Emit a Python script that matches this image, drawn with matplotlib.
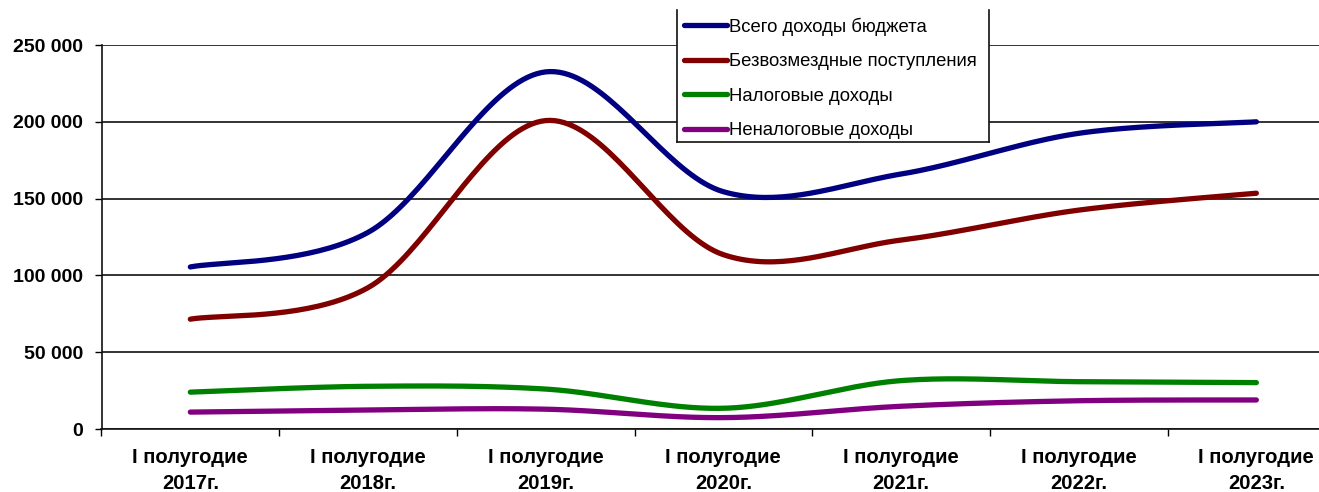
import numpy as np
import matplotlib
matplotlib.use("Agg")
import matplotlib.pyplot as plt
from matplotlib.patches import Rectangle
from matplotlib.lines import Line2D

plt.rcParams['font.family'] = ['Liberation Sans', 'DejaVu Sans']

categories = ["I полугодие\n2017г.", "I полугодие\n2018г.", "I полугодие\n2019г.",
              "I полугодие\n2020г.", "I полугодие\n2021г.", "I полугодие\n2022г.",
              "I полугодие\n2023г."]
total_income = [105500, 128000, 232500, 154500, 166000, 192500, 200000]
grants = [71500, 92000, 200800, 113500, 123000, 142500, 153500]
tax_income = [24000, 27800, 26000, 13500, 31500, 30800, 30200]
nontax_income = [11000, 12400, 12900, 7400, 14800, 18400, 18900]
series_names = ["Всего доходы бюджета", "Безвозмездные поступления",
                "Налоговые доходы", "Неналоговые доходы"]
series_colors = ["#000080", "#800000", "#008000", "#800080"]
y_ticks = [0, 50000, 100000, 150000, 200000, 250000]
y_ticklabels = ["0", "50 000", "100 000", "150 000", "200 000", "250 000"]


def smooth(xs, ys, n=40):
    """Excel-style smoothed line (Catmull-Rom via cubic Bezier)."""
    xs = np.asarray(xs, float)
    ys = np.asarray(ys, float)
    px, py = [], []
    m = len(xs)
    t = np.linspace(0, 1, n)
    for i in range(m - 1):
        i0 = max(i - 1, 0)
        i3 = min(i + 2, m - 1)
        p1 = np.array([xs[i], ys[i]])
        p2 = np.array([xs[i + 1], ys[i + 1]])
        p0 = np.array([xs[i0], ys[i0]])
        p3 = np.array([xs[i3], ys[i3]])
        c1 = p1 + (p2 - p0) / 6.0
        c2 = p2 - (p3 - p1) / 6.0
        b = ((1 - t) ** 3)[:, None] * p1 + (3 * (1 - t) ** 2 * t)[:, None] * c1 + \
            (3 * (1 - t) * t ** 2)[:, None] * c2 + (t ** 3)[:, None] * p2
        if i > 0:
            b = b[1:]
        px.extend(b[:, 0])
        py.extend(b[:, 1])
    return np.array(px), np.array(py)


W, H = 1319, 492
fig = plt.figure(figsize=(W / 100, H / 100), dpi=100)
left_px, right_px, top_px, bottom_px = 101.5, 1319, 45, 429
ax = fig.add_axes([left_px / W, (H - bottom_px) / H,
                   (right_px - left_px) / W, (bottom_px - top_px) / H])

step = 177.67
x = np.arange(len(categories))

for s, c, name in zip([total_income, grants, tax_income, nontax_income],
                      series_colors, series_names):
    sx, sy = smooth(x, s)
    ax.plot(sx, sy, color=c, lw=3.8, solid_capstyle='round', label=name, zorder=3)

ax.set_yticks(y_ticks)
ax.set_yticklabels(y_ticklabels, fontsize=14, fontweight='bold')
ax.yaxis.grid(True, color='#111111', lw=1.2)
ax.set_axisbelow(True)
ax.tick_params(axis='y', direction='out', length=5, width=1.0, pad=8.5)

ax.set_xticks(x)
ax.set_xticklabels(categories, fontsize=14.6, fontweight='bold', linespacing=1.42)
ax.set_xticks(np.arange(-0.5, len(categories) - 0.4, 1.0), minor=True)
ax.tick_params(axis='x', which='major', length=0, pad=14)
ax.tick_params(axis='x', which='minor', direction='out', length=5, width=1.0)

ax.set_xlim(-0.5, -0.5 + (right_px - left_px) / step)
ax.set_ylim(0, 250000)

for sp in ['top', 'right']:
    ax.spines[sp].set_visible(False)
for sp in ['left', 'bottom']:
    ax.spines[sp].set_color('#111111')
    ax.spines[sp].set_linewidth(1.2)

# legend box (top cut off, as in reference)
lx0, lx1, ly0, ly1 = 677, 989, 10, 142
fig.patches.append(Rectangle((lx0 / W, (H - ly1) / H), (lx1 - lx0) / W, (ly1 - ly0) / H,
                             transform=fig.transFigure, facecolor='white',
                             edgecolor='none', zorder=5))
for (xa, ya, xb, yb) in [(lx0, ly0, lx0, ly1), (lx0, ly1, lx1, ly1), (lx1, ly0, lx1, ly1)]:
    fig.lines.append(Line2D([xa / W, xb / W], [(H - ya) / H, (H - yb) / H],
                            transform=fig.transFigure, color='#111111', lw=1.2, zorder=6))

handles, labels = ax.get_legend_handles_labels()
leg = fig.legend(handles, labels, loc='upper left',
                 bbox_to_anchor=(684 / W, (H - 17.5) / H), bbox_transform=fig.transFigure,
                 frameon=False, fontsize=13.3, handlelength=2.35, handletextpad=0.1,
                 labelspacing=0.95, borderpad=0, borderaxespad=0)
leg.set_zorder(7)

fig.savefig("out.png", dpi=100)
